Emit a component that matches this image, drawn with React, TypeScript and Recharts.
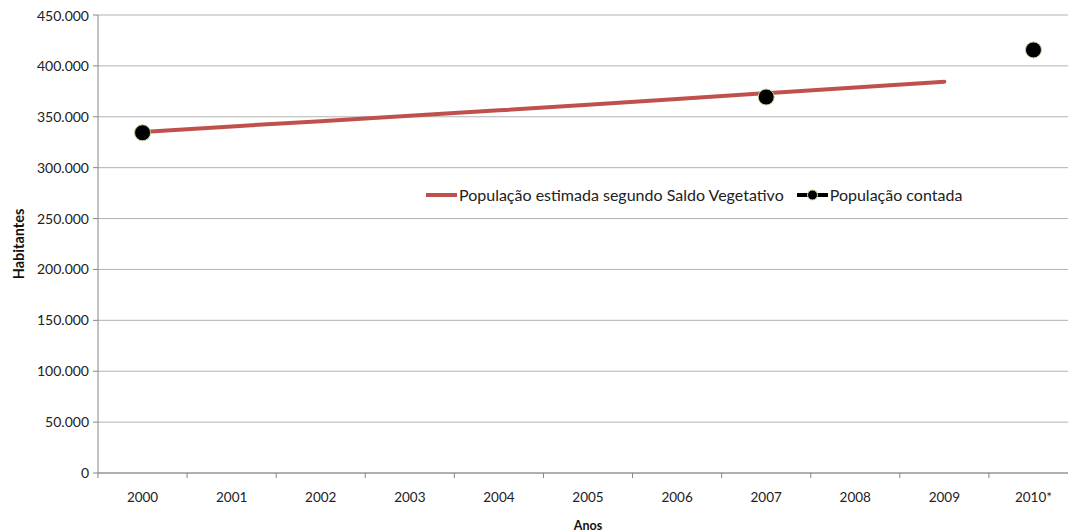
import React from 'react';
import { LineChart, Line, XAxis, YAxis, CartesianGrid, Legend } from 'recharts';

const years = ['2000', '2001', '2002', '2003', '2004', '2005', '2006', '2007', '2008', '2009', '2010*'];
const estimada: (number | null)[] = [335000, 340500, 345700, 351000, 356300, 361800, 367500, 373200, 378800, 384500, null];
const contada: (number | null)[] = [334300, null, null, null, null, null, null, 369400, null, null, 415700];
const yTicks = [0, 50000, 100000, 150000, 200000, 250000, 300000, 350000, 400000, 450000];
const xTicks = [-0.5, 0, 0.5, 1, 1.5, 2, 2.5, 3, 3.5, 4, 4.5, 5, 5.5, 6, 6.5, 7, 7.5, 8, 8.5, 9, 9.5, 10, 10.5];
const nameEstimada = 'População estimada segundo Saldo Vegetativo';
const nameContada = 'População contada';

const data = years.map((y, i) => ({ x: i, year: y, estimada: estimada[i], contada: contada[i] }));

const FONT = 'Lato, "Open Sans", sans-serif';
const AXIS = '#868686';
const GRID = '#b3b3b3';
const RED = '#C0504D';

const fmt = (v: number) => String(v).replace(/\B(?=(\d{3})+(?!\d))/g, '.');

const XTick = (props: any) => {
  const { x, y, payload } = props;
  const v = payload.value as number;
  if (Number.isInteger(v)) {
    return (
      <text x={x} y={y + 29} textAnchor="middle" fontSize={13.5} fill="#222" fontFamily={FONT}>
        {years[v]}
      </text>
    );
  }
  return <line x1={x} x2={x} y1={y} y2={y + 5} stroke={AXIS} strokeWidth={1} />;
};

const LegendContent = () => (
  <div style={{ display: 'flex', alignItems: 'center', fontFamily: FONT, fontSize: 16, color: '#222', whiteSpace: 'nowrap' }}>
    <svg width={33} height={12} style={{ marginRight: 1 }}>
      <line x1={1} x2={32} y1={6} y2={6} stroke={RED} strokeWidth={4} />
    </svg>
    <span>{nameEstimada}</span>
    <svg width={33} height={12} style={{ marginLeft: 12, marginRight: 1 }}>
      <line x1={1} x2={32} y1={6} y2={6} stroke="#000" strokeWidth={4} />
      <circle cx={16.5} cy={6} r={5} fill="#000" stroke="#c3d69b" strokeWidth={1} />
    </svg>
    <span>{nameContada}</span>
  </div>
);

export default function App() {
  return (
    <div style={{ position: 'fixed', left: 0, top: 0, width: '100vw', height: '100vh', overflow: 'hidden', background: '#fff' }}>
      <div style={{ position: 'absolute', left: 8, top: 8 }}>
        <LineChart width={1072} height={524} data={data} margin={{ top: 7, right: 2, left: 0, bottom: 0 }}>
          <CartesianGrid vertical={false} stroke={GRID} strokeWidth={1} />
          <XAxis
            dataKey="x"
            type="number"
            domain={[-0.5, 10.5]}
            ticks={xTicks}
            interval={0}
            tickSize={0}
            tickMargin={0}
            tickLine={false}
            tick={<XTick />}
            stroke={AXIS}
            height={59}
            label={{
              content: (p: any) => (
                <text x={p.viewBox.x + p.viewBox.width / 2} y={p.viewBox.y + 57} textAnchor="middle" fontSize={12.5} fontWeight="bold" fill="#111" fontFamily={FONT}>
                  Anos
                </text>
              ),
            }}
          />
          <YAxis
            domain={[0, 450000]}
            ticks={yTicks}
            tickFormatter={fmt}
            width={90}
            tickSize={5}
            tickMargin={4}
            stroke={AXIS}
            tick={{ fontSize: 14, fill: '#222', fontFamily: FONT }}
            label={{
              content: (p: any) => {
                const cx = 10;
                const cy = p.viewBox.y + p.viewBox.height / 2;
                return (
                  <text x={cx} y={cy} transform={`rotate(-90, ${cx}, ${cy})`} textAnchor="middle" dominantBaseline="central" fontSize={14.5} fontWeight="bold" fill="#111" fontFamily={FONT}>
                    Habitantes
                  </text>
                );
              },
            }}
          />
          <Legend
            content={<LegendContent />}
            layout="horizontal"
            verticalAlign="middle"
            align="center"
            wrapperStyle={{ left: 417, top: 177, width: 'auto' }}
          />
          <Line
            dataKey="estimada"
            name={nameEstimada}
            stroke={RED}
            strokeWidth={4}
            strokeLinecap="round"
            dot={false}
            activeDot={false}
            isAnimationActive={false}
            connectNulls={false}
          />
          <Line
            dataKey="contada"
            name={nameContada}
            stroke="#000"
            strokeWidth={4}
            dot={{ r: 8, fill: '#000', stroke: '#c3d69b', strokeWidth: 1 }}
            activeDot={false}
            isAnimationActive={false}
            connectNulls={false}
          />
        </LineChart>
      </div>
    </div>
  );
}
